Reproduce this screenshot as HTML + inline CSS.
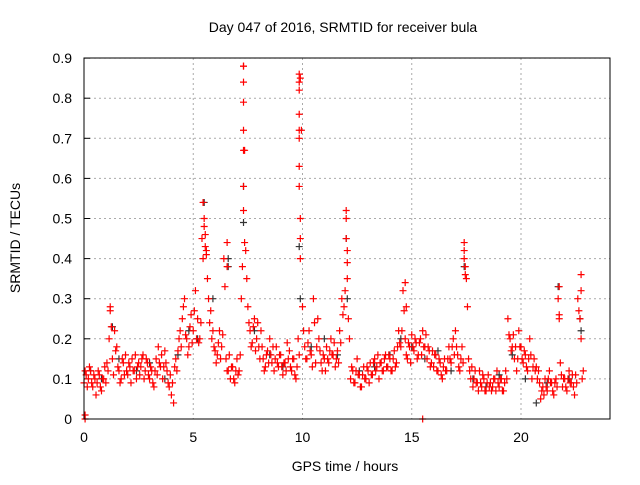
<!DOCTYPE html>
<html><head><meta charset="utf-8"><style>
body{margin:0;background:#fff;}
svg text{font-family:"Liberation Sans",sans-serif;}
</style></head><body>
<svg id="chart" width="640" height="480" xmlns="http://www.w3.org/2000/svg">
<text x="343" y="32" font-size="14" text-anchor="middle">Day 047 of 2016, SRMTID for receiver bula</text>
<text x="0" y="0" font-size="14" text-anchor="middle" transform="translate(20,238) rotate(-90)">SRMTID / TECUs</text>
<text x="345" y="471" font-size="14" text-anchor="middle">GPS time / hours</text>
<g id="grid"></g><g id="ticks"></g><g id="black"></g><g id="red"></g>
<rect x="84" y="58" width="526" height="361" fill="none" stroke="#000" stroke-width="1"/>
</svg>
<script>
const xTicks=[0,5,10,15,20];
const yTicks=[0,0.1,0.2,0.3,0.4,0.5,0.6,0.7,0.8,0.9];
const yTickLabels=["0","0.1","0.2","0.3","0.4","0.5","0.6","0.7","0.8","0.9"];
const redVals=[0.09,0.11,0.10,0.12,0.08,0.10,0.09,0.11,0.07,0.10,
0.09,0.12,0.27,0.15,0.22,0.18,0.12,0.10,0.14,0.16,
0.11,0.13,0.15,0.12,0.10,0.14,0.13,0.16,0.12,0.14,
0.10,0.12,0.08,0.15,0.18,0.13,0.10,0.17,0.12,0.08,
0.06,0.04,0.15,0.17,0.22,0.25,0.30,0.20,0.18,0.26,
0.22,0.32,0.25,0.20,0.45,0.48,0.42,0.30,0.27,0.22,
0.17,0.16,0.22,0.18,0.40,0.15,0.12,0.10,0.13,0.09,
0.15,0.12,0.30,0.88,0.42,0.28,0.22,0.19,0.25,0.20,
0.18,0.22,0.15,0.13,0.17,0.20,0.14,0.12,0.18,0.13,
0.16,0.11,0.14,0.19,0.17,0.12,0.15,0.10,0.20,0.85,
0.28,0.18,0.15,0.22,0.16,0.30,0.14,0.25,0.17,0.12,
0.15,0.18,0.14,0.20,0.16,0.13,0.17,0.22,0.30,0.28,
0.50,0.25,0.10,0.12,0.09,0.15,0.11,0.08,0.13,0.10,
0.12,0.14,0.11,0.15,0.13,0.10,0.14,0.12,0.16,0.13,
0.15,0.12,0.17,0.14,0.22,0.18,0.32,0.20,0.15,0.18,
0.21,0.17,0.19,0.16,0.20,0.22,0.18,0.15,0.17,0.14,
0.13,0.16,0.12,0.14,0.10,0.15,0.12,0.18,0.14,0.20,
0.22,0.16,0.12,0.18,0.42,0.35,0.15,0.10,0.08,0.12,
0.09,0.12,0.08,0.10,0.07,0.11,0.09,0.08,0.10,0.12,
0.08,0.10,0.07,0.12,0.25,0.20,0.18,0.15,0.12,0.22,
0.18,0.14,0.16,0.12,0.20,0.10,0.15,0.13,0.12,0.05,
0.08,0.10,0.07,0.12,0.09,0.06,0.10,0.30,0.14,0.08,
0.10,0.07,0.12,0.09,0.08,0.11,0.30,0.25,0.10];
const redVals2=[0.12,0.08,0.13,0.09,0.11,0.06,0.12,0.08,0.10,0.13,
0.14,0.20,0.23,0.11,0.17,0.13,0.09,0.15,0.11,0.12,
0.14,0.09,0.12,0.16,0.13,0.11,0.15,0.10,0.15,0.11,
0.13,0.09,0.12,0.11,0.14,0.16,0.13,0.14,0.09,0.11,
0.09,0.13,0.12,0.20,0.18,0.28,0.21,0.16,0.23,0.19,
0.27,0.20,0.19,0.24,0.40,0.43,0.35,0.24,0.20,0.18,
0.14,0.19,0.15,0.21,0.33,0.12,0.16,0.13,0.10,0.12,
0.11,0.16,0.38,0.67,0.35,0.24,0.18,0.23,0.17,0.24,
0.15,0.18,0.12,0.16,0.14,0.16,0.18,0.15,0.14,0.16,
0.13,0.14,0.12,0.15,0.13,0.15,0.11,0.13,0.16,0.72,
0.22,0.15,0.19,0.17,0.13,0.24,0.18,0.20,0.14,0.16,
0.12,0.15,0.17,0.16,0.19,0.15,0.14,0.19,0.26,0.32,
0.42,0.20,0.13,0.09,0.12,0.11,0.08,0.11,0.10,0.13,
0.09,0.11,0.14,0.12,0.16,0.14,0.12,0.15,0.13,0.16,
0.12,0.15,0.13,0.18,0.19,0.22,0.27,0.16,0.19,0.14,
0.18,0.20,0.15,0.19,0.16,0.18,0.21,0.18,0.13,0.17,
0.16,0.12,0.15,0.11,0.13,0.12,0.15,0.15,0.18,0.16,
0.18,0.13,0.15,0.14,0.38,0.28,0.12,0.13,0.10,0.09,
0.07,0.09,0.11,0.07,0.09,0.08,0.07,0.10,0.07,0.09,
0.10,0.07,0.09,0.10,0.21,0.17,0.21,0.18,0.15,0.18,
0.15,0.17,0.13,0.15,0.16,0.13,0.12,0.10,0.09,0.07,
0.06,0.08,0.10,0.09,0.07,0.09,0.08,0.25,0.11,0.10,
0.08,0.10,0.09,0.11,0.06,0.09,0.27,0.20,0.12];
const spikeTimes=[7.3,7.3,7.3,7.3,7.3,7.3,7.3,7.35,9.85,9.85,9.85,9.85,9.85,9.85,9.85,9.85,9.9,9.9,9.9,5.45,5.5,5.55,5.6,12.0,12.0,12.05,12.05,17.4,17.4,17.45,22.75,22.75,21.75,21.75,14.7,14.75,1.2,6.55,6.55,15.5,0.05,0.05];
const spikeVals=[0.88,0.84,0.79,0.72,0.67,0.58,0.52,0.44,0.86,0.84,0.82,0.76,0.72,0.70,0.63,0.58,0.50,0.45,0.40,0.54,0.50,0.46,0.41,0.52,0.45,0.39,0.35,0.44,0.40,0.36,0.36,0.32,0.33,0.26,0.34,0.28,0.28,0.44,0.38,0.0,0.0,0.01];
const blackTimes=[0.3,0.8,1.3,1.6,2.4,3.0,3.7,4.3,4.8,5.2,5.5,5.9,6.6,6.6,7.3,7.3,7.8,8.5,9.1,9.85,9.9,10.4,11.0,11.6,12.0,12.05,12.6,13.3,14.0,14.5,15.0,15.6,16.2,16.8,17.4,17.8,18.4,19.0,19.6,20.2,20.7,21.2,21.7,22.2,22.7,22.75];
const blackVals=[0.12,0.10,0.23,0.15,0.12,0.14,0.10,0.16,0.22,0.20,0.54,0.30,0.40,0.38,0.58,0.49,0.22,0.16,0.13,0.43,0.30,0.18,0.20,0.16,0.45,0.30,0.12,0.13,0.16,0.20,0.18,0.15,0.17,0.12,0.38,0.10,0.08,0.11,0.16,0.10,0.04,0.09,0.33,0.10,0.25,0.22];
const NS="http://www.w3.org/2000/svg";
const X=t=>84+t*21.85, Y=v=>419-v*401;
function mk(tag,attrs,parent){const e=document.createElementNS(NS,tag);for(const k in attrs)e.setAttribute(k,attrs[k]);parent.appendChild(e);return e;}
const grid=document.getElementById('grid'),ticks=document.getElementById('ticks');
yTicks.forEach((v,i)=>{
 if(i>0){const g=mk('line',{x1:84,x2:610,y1:Y(v),y2:Y(v),stroke:'#aaa','stroke-dasharray':'2,3'},grid);
 
 }
 const t=mk('text',{x:72,y:Y(v)+5,'font-size':14,'text-anchor':'end'},ticks);t.textContent=yTickLabels[i];
 
 
 mk('line',{x1:84,x2:90,y1:Y(v),y2:Y(v),stroke:'#000'},ticks);
});
xTicks.forEach(v=>{
 if(v>0){const g=mk('line',{x1:X(v),x2:X(v),y1:58,y2:419,stroke:'#aaa','stroke-dasharray':'2,3'},grid);
 
 }
 const t=mk('text',{x:X(v),y:442,'font-size':14,'text-anchor':'middle'},ticks);t.textContent=String(v);
 
 
});
function plus(t,v,color,parent,name){
 const x=X(t),y=Y(v);
 const p=mk('path',{d:`M${x-3.5},${y}H${x+3.5}M${x},${y-3.5}V${y+3.5}`,stroke:color,'stroke-width':1.2,fill:'none'},parent);
 
 
}
const bg=document.getElementById('black'),rg=document.getElementById('red');
blackTimes.forEach((t,i)=>plus(t,blackVals[i],'#333',bg,'black-point'));
redVals.forEach((v,i)=>plus(i*0.1,v,'#f00',rg,'red-point'));
redVals2.forEach((v,i)=>plus(i*0.1+0.05,v,'#f00',rg,'red-point'));
spikeTimes.forEach((t,i)=>plus(t,spikeVals[i],'#f00',rg,'red-spike-point'));
</script>
</body></html>
